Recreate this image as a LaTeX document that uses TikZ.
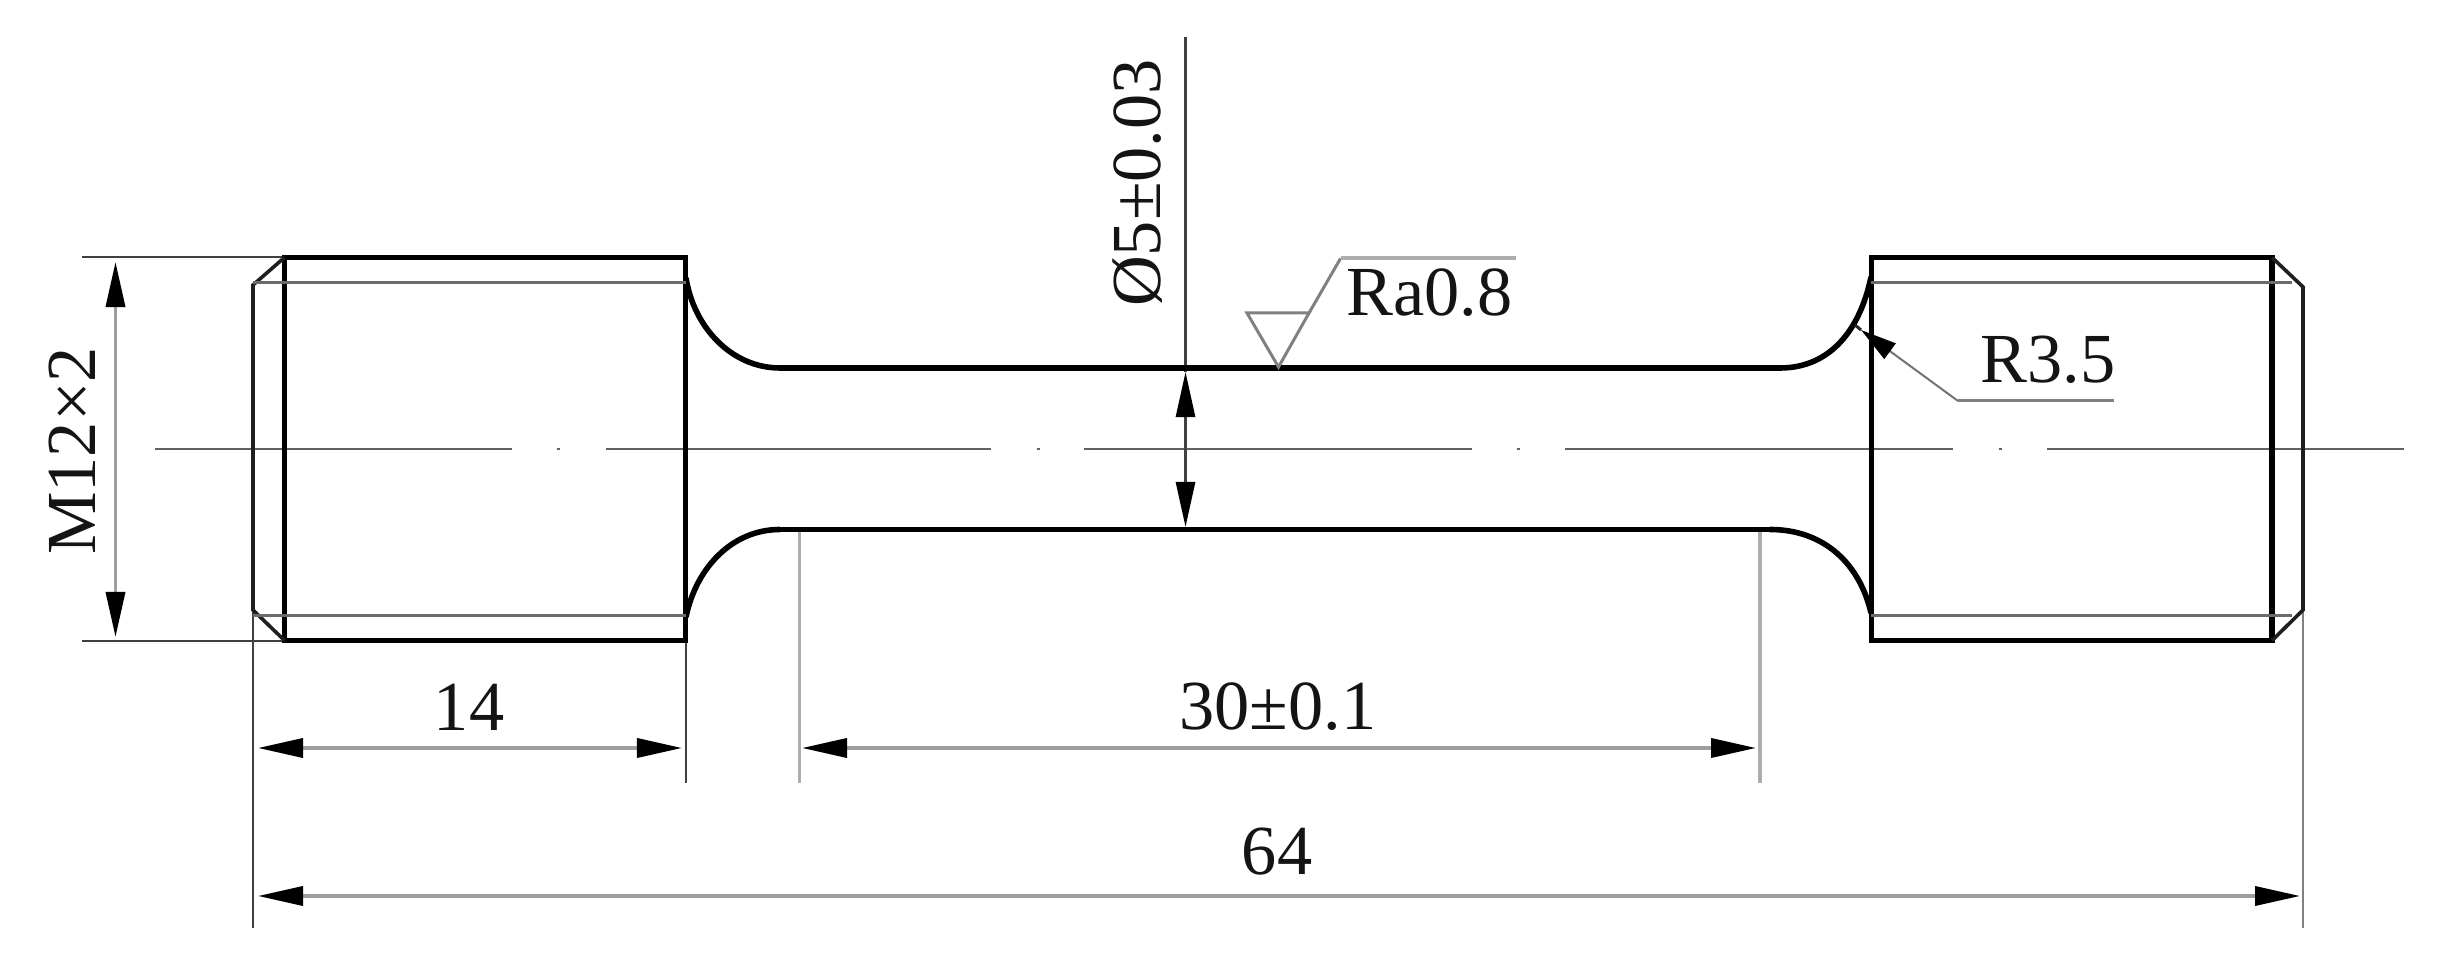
\documentclass[tikz,border=0pt]{standalone}
\usepackage{fontspec}
\setmainfont{Liberation Serif}
\usetikzlibrary{arrows.meta}
\definecolor{dimgray}{gray}{0.62}
\definecolor{centergray}{gray}{0.38}
\definecolor{darkline}{gray}{0.25}
\definecolor{lightgray2}{gray}{0.68}
\tikzset{
  outline/.style={line width=0.56mm, draw=black, line join=miter},
  threadline/.style={line width=0.3mm, draw=black!58},
  chamfer/.style={line width=0.36mm, draw=black!88},
  centerline/.style={line width=0.26mm, draw=centergray},
  extline/.style={line width=0.26mm, draw=darkline},
  extlight/.style={line width=0.32mm, draw=lightgray2},
  dimline/.style={line width=0.36mm, draw=dimgray},
  vdim/.style={line width=0.28mm, draw=darkline},
  head/.tip={Triangle[length=4.5mm,width=1.9mm,color=black,fill=black]},
  smallhead/.tip={Triangle[length=3.6mm,width=1.9mm,color=black,fill=black]},
  bothheads/.style={{head}-{head}},
  dimtext/.style={inner sep=0pt, font=\fontsize{20}{24}\selectfont, text=black!92},
  symbolline/.style={line width=0.3mm, draw=black!50},
}
\begin{document}
\begin{tikzpicture}[x=0.01cm,y=-0.01cm]
\useasboundingbox[fill=white] (0,0) rectangle (2437,968);

% centre line
\foreach \a/\b in {155/512,606/991,1084/1472,1565/1953,2047/2404}
  \draw[centerline] (\a,449) -- (\b,449);
\foreach \d in {558,1038,1518,2000}
  \draw[centerline] (\d-1.5,449) -- (\d+1.5,449);

% extension lines
\coordinate (ltop) at (82,257);
\coordinate (lbot) at (82,641);
\coordinate (ovL0) at (253,610);
\coordinate (ovL1) at (253,928);
\coordinate (ovR0) at (2303,610);
\coordinate (ovR1) at (2303,928);
\coordinate (ft0) at (686,641);
\coordinate (ft1) at (686,783);
\coordinate (gL0) at (799.5,530);
\coordinate (gL1) at (799.5,783);
\coordinate (gR0) at (1760,530);
\coordinate (gR1) at (1760,783);
\draw[extline] (ltop) -- (284,257);
\draw[extline] (lbot) -- (284,641);
\draw[extline] (ovL0) -- (ovL1);
\draw[extline, draw=black!50] (ovR0) -- (ovR1);
\draw[extline] (ft0) -- (ft1);
\draw[extlight] (gL0) -- (gL1);
\draw[extlight] (gR0) -- (gR1);
\draw[extline] (1185.5,37) -- (1185.5,372);

% part outline
\coordinate (A1) at (284.5,257.5);
\coordinate (A2) at (685.5,257.5);
\coordinate (A3) at (685.5,640.5);
\coordinate (A4) at (284.5,640.5);
\coordinate (B1) at (1871.5,257.5);
\coordinate (B2) at (2272,257.5);
\coordinate (B3) at (2272,640.5);
\coordinate (B4) at (1871.5,640.5);
\draw[outline] (A1) rectangle (A3);
\draw[outline] (B1) rectangle (B3);
\draw[outline] (780,368) -- (1780,368);
\draw[outline] (780,529.5) -- (1770,529.5);
\draw[outline] (686,278) .. controls (694,328) and (732,368) .. (780,368);
\draw[outline] (686,617) .. controls (696,568) and (732,529.5) .. (780,529.5);
\draw[outline] (1871,277) .. controls (1860,330) and (1830,368) .. (1780,368);
\draw[outline] (1871,613) .. controls (1860,565) and (1825,529.5) .. (1770,529.5);

% thread ends
\draw[chamfer] (A1) -- (253,285) -- (253,610) -- (A4);
\draw[chamfer] (B2) -- (2303,287) -- (2303,610) -- (B3);
\draw[threadline] (253,282.5) -- (686,282.5);
\draw[threadline] (253,615.5) -- (686,615.5);
\draw[threadline] (1871,282.5) -- (2292,282.5);
\draw[threadline] (1871,615.5) -- (2292,615.5);

% dimension lines
\draw[dimline, draw=black!38, bothheads] (115.5,262) -- (115.5,637);
\draw[vdim, bothheads] (1185.5,372) -- (1185.5,527);
\draw[dimline, bothheads] (258,748) -- (682,748);
\draw[dimline, bothheads] (802,748) -- (1756,748);
\draw[dimline, bothheads] (258,896) -- (2300,896);

% R3.5 leader
\coordinate (Rstub) at (1855,325);
\coordinate (Rtip) at (1861,330);
\coordinate (Rknee) at (1958,401);
\coordinate (Rend) at (2114,401);
\draw[line width=0.3mm, draw=black!85] (Rstub) -- (Rtip);
\draw[line width=0.2mm, draw=black!55, {smallhead}-] (Rtip) -- (Rknee);
\draw[line width=0.3mm, draw=black!50] (Rknee) -- (Rend);

% roughness symbol
\coordinate (S1) at (1247,313);
\coordinate (S2) at (1309,313);
\coordinate (S3) at (1278.5,367);
\coordinate (S4) at (1340.5,258.5);
\coordinate (S5) at (1516,258.5);
\draw[symbolline] (S1) -- (S2) -- (S3) -- cycle;
\draw[symbolline] (S2) -- (S4);
\draw[line width=0.4mm, draw=black!32] (S4) -- (S5);

% texts
\node[dimtext, rotate=90, anchor=base] (tM) at (95,451) {M12×2};
\node[dimtext, rotate=90, anchor=base] (tD) at (1160,183) {Ø5±0.03};
\node[dimtext, anchor=base] (tRa) at (1429.5,316) {Ra0.8};
\node[dimtext, anchor=base] (tR) at (2048,383) {R3.5};
\node[dimtext, anchor=base] (t14) at (469,731) {14};
\node[dimtext, anchor=base] (t30) at (1278,730) {30±0.1};
\node[dimtext, anchor=base] (t64) at (1277,875) {64};
\end{tikzpicture}
\end{document}
